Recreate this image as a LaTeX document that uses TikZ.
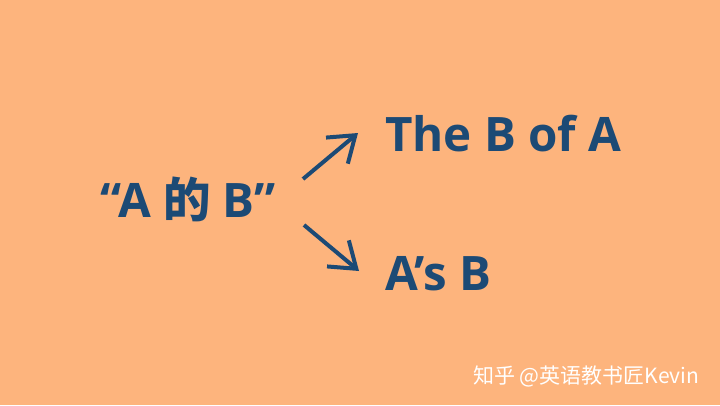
\documentclass[tikz,border=0pt]{standalone}
\usepackage{fontspec}
\setmainfont{Open Sans}
\newfontfamily\cjk{Noto Sans CJK SC}
\usetikzlibrary{arrows.meta}
\definecolor{bgorange}{RGB}{253,180,125}
\definecolor{inkblue}{RGB}{28,74,117}

\begin{document}
\begin{tikzpicture}[x=1pt,y=-1pt,
  big/.style={anchor=base west,inner sep=0pt,text=inkblue,
    font=\fontsize{47.5}{48}\selectfont\bfseries},
  pointer/.style={draw=inkblue,line width=4pt,
    -{Straight Barb[length=24pt,width=34pt]}}]
\fill[bgorange] (0,0) rectangle (720,405);
\node[big] (src) at (100,217) {“A {\cjk 的} B”};
\node[big] (top) at (385,151) {The B of A};
\node[big] (bot) at (385,290) {A’s B};
\coordinate (upS) at (303,179);
\coordinate (upE) at (358,133);
\coordinate (dnS) at (304,225);
\coordinate (dnE) at (359,271);
\draw[pointer] (upS) -- (upE);
\draw[pointer] (dnS) -- (dnE);
\node[anchor=base west,inner sep=0pt,text=white,
  font=\cjk\fontsize{21}{21}\selectfont] (mark) at (473,383)
  {知乎 @英语教书匠Kevin};
\end{tikzpicture}
\end{document}
